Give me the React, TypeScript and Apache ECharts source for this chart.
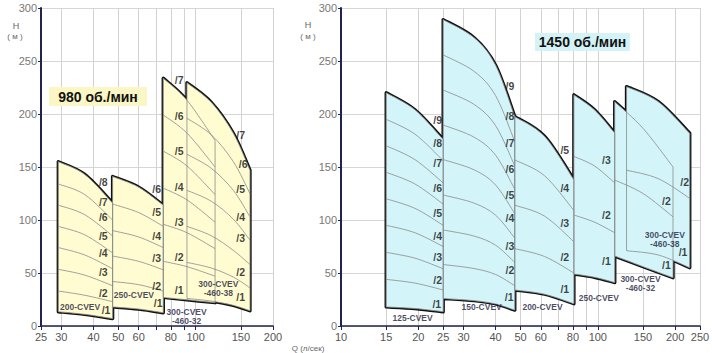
import React, { useEffect, useRef } from "react";
import * as echarts from "echarts";

// ---------- axis ticks ----------
const LEFT_X_LABELS = [25, 30, 40, 50, 60, 80, 100, 150, 200];
const LEFT_X_GRID = [25, 30, 40, 50, 60, 70, 80, 90, 100, 150, 200];
const RIGHT_X_LABELS = [10, 15, 20, 25, 30, 40, 50, 60, 80, 100, 150, 200, 250];
const RIGHT_X_GRID = [10, 15, 20, 25, 30, 40, 50, 60, 70, 80, 90, 100, 150, 200, 250];

// ---------- 980 об./мин ----------
const L200_Q = [29.2, 37, 47.5];
const L200_H = [
  [13.5, 11, 7],
  [33, 29, 23],
  [53.5, 48, 38],
  [74, 67, 54],
  [94, 86, 69],
  [114, 105, 85],
  [134, 124, 100],
  [155, 143, 116],
];
const L250_Q = [47.5, 60, 74.8];
const L250_H = [
  [18, 16, 12.5],
  [42, 39, 33],
  [66, 61, 53],
  [90, 84, 74],
  [115, 107, 94],
  [141, 131, 114],
];
const L300_32_Q = [74.8, 92.5, 119];
const L300_32_H = [
  [27, 24.7, 22],
  [61, 56, 47],
  [96, 88, 73],
  [130, 119, 98],
  [165, 151, 124],
  [199, 182, 150],
  [233.7, 213, 175],
];
const L300_38_Q = [92.5, 115, 140, 162.7];
const L300_38_H = [
  [26, 23.5, 19.5, 14.4],
  [60, 54.7, 46.2, 36],
  [94, 85.2, 71.4, 58],
  [128, 117.7, 100.9, 81],
  [162, 148.8, 128.1, 103],
  [196, 180.4, 155.2, 125],
  [229.5, 211, 182, 147],
];

// ---------- 1450 об./мин ----------
const R125_Q = [15, 19.4, 25];
const R125_H = [
  [18, 16.5, 13.5],
  [44, 40.5, 34],
  [69.5, 64, 54],
  [95, 88, 75],
  [120, 111, 95],
  [145, 134, 115],
  [170, 157, 135],
  [195, 181, 156],
  [220, 204, 176],
];
const R150_Q = [25, 33, 40, 47.5];
const R150_H = [
  [26, 23.9, 20.8, 15],
  [58, 54.2, 48.6, 38],
  [90.6, 84.8, 76.2, 60],
  [123.6, 115.9, 104.5, 83],
  [157, 147.3, 133, 106],
  [189.6, 178.1, 161.1, 129],
  [222.6, 209, 189, 151],
  [255.7, 240.2, 217.3, 174],
  [289, 272, 246, 197.5],
];
const R200_Q = [47.5, 62, 80.7];
const R200_H = [
  [34, 30, 21],
  [73, 65.6, 50],
  [114, 103.7, 79.5],
  [156.6, 141.8, 109],
  [197.5, 179, 138],
];
const R250_Q = [80.7, 97, 116.4];
const R250_H = [
  [49, 46, 41],
  [104.7, 98, 88],
  [160, 151, 135],
  [218, 204, 182],
];
const R300_32_Q = [116.4, 150, 196.3];
const R300_32_H = [
  [66, 56, 45.5],
  [137.7, 125, 103],
  [211.6, 186.5, 150],
];
const R300_38_Q = [129.4, 172, 228];
const R300_38_H = [
  [71, 67, 55],
  [147, 139, 120.5],
  [225.8, 211.6, 181.8],
];

// ---------- labels ----------
const LEFT_STAGE_LABELS: [number, number, string][] = [
  [43.7, 136, "/8"], [43.7, 117.3, "/7"], [43.7, 103, "/6"], [43.7, 85, "/5"],
  [43.7, 68.6, "/4"], [43.7, 51.2, "/3"], [43.7, 30.8, "/2"], [44.8, 15.1, "/1"],
  [70.5, 129, "/6"], [70.5, 107.8, "/5"], [70.5, 85.2, "/4"], [70.5, 63.8, "/3"],
  [70.5, 37.7, "/2"], [71.5, 22, "/1"],
  [86.3, 232, "/7"], [86.3, 198, "/6"], [86.3, 165.4, "/5"], [86.3, 130.8, "/4"],
  [86.3, 97.8, "/3"], [86.3, 64.8, "/2"], [86.3, 34, "/1"],
  [149.6, 180, "/7"], [153, 152.8, "/6"], [149.6, 129, "/5"], [149.6, 103, "/4"],
  [149.6, 82.7, "/3"], [149.6, 51.2, "/2"], [149.6, 27, "/1"],
];
const RIGHT_STAGE_LABELS: [number, number, string][] = [
  [23.8, 193.9, "/9"], [23.8, 173.1, "/8"], [23.8, 153.8, "/7"], [23.8, 130, "/6"],
  [23.8, 106.9, "/5"], [23.8, 85.2, "/4"], [23.8, 64.8, "/3"], [23.8, 43.4, "/2"], [23.6, 20.5, "/1"],
  [45.5, 226.4, "/9"], [45.5, 198, "/8"], [45.5, 172.3, "/7"], [45.5, 147.8, "/6"],
  [45.5, 123.6, "/5"], [45.5, 101.6, "/4"], [45.5, 75.5, "/3"], [45.5, 52.8, "/2"], [45.2, 27.6, "/1"],
  [74.4, 165.6, "/5"], [74.4, 130, "/4"], [74.4, 97.5, "/3"], [74.4, 64.8, "/2"], [74.4, 34.6, "/1"],
  [108, 157, "/3"], [108, 104.7, "/2"], [108, 61.6, "/1"],
  [184.9, 118.2, "/2"], [184.9, 57.5, "/1"],
  [218, 136, "/2"], [214.8, 70, "/1"],
];
const LEFT_NAMES: [number, number, string][] = [
  [35.5, 18.2, "200-CVEV"],
  [57.5, 29.2, "250-CVEV"],
  [92.2, 9.4, "300-CVEV\n-460-32"],
  [122.5, 35, "300-CVEV\n-460-38"],
];
const RIGHT_NAMES: [number, number, string][] = [
  [19, 7.8, "125-CVEV"],
  [35.3, 18.2, "150-CVEV"],
  [60.9, 18.2, "200-CVEV"],
  [100.9, 26.1, "250-CVEV"],
  [146.6, 40, "300-CVEV\n-460-32"],
  [182.3, 81.8, "300-CVEV\n-460-38"],
];

type Region = { q: number[]; h: number[][] };
const LEFT_REGIONS: Region[] = [
  { q: L200_Q, h: L200_H },
  { q: L250_Q, h: L250_H },
  { q: L300_32_Q, h: L300_32_H },
  { q: L300_38_Q, h: L300_38_H },
];
const RIGHT_REGIONS: Region[] = [
  { q: R125_Q, h: R125_H },
  { q: R150_Q, h: R150_H },
  { q: R200_Q, h: R200_H },
  { q: R250_Q, h: R250_H },
  { q: R300_32_Q, h: R300_32_H },
  { q: R300_38_Q, h: R300_38_H },
];

const FONT = "Liberation Sans";
const AXIS_COLOR = "#22224f";
const lg = (v: number) => Math.log10(v);

function curvePath(pts: number[][], start: boolean): string {
  let d = (start ? "M" : "L") + pts[0][0].toFixed(2) + "," + pts[0][1].toFixed(2);
  for (let i = 0; i < pts.length - 1; i++) {
    const p0 = pts[Math.max(0, i - 1)];
    const p1 = pts[i];
    const p2 = pts[i + 1];
    const p3 = pts[Math.min(pts.length - 1, i + 2)];
    const c1x = p1[0] + (p2[0] - p0[0]) / 6;
    const c1y = p1[1] + (p2[1] - p0[1]) / 6;
    const c2x = p2[0] - (p3[0] - p1[0]) / 6;
    const c2y = p2[1] - (p3[1] - p1[1]) / 6;
    d += ` C${c1x.toFixed(2)},${c1y.toFixed(2)} ${c2x.toFixed(2)},${c2y.toFixed(2)} ${p2[0].toFixed(2)},${p2[1].toFixed(2)}`;
  }
  return d;
}

function makeRender(regions: Region[], mode: "outline" | "fill" | "curves", color: string) {
  return (params: any, api: any) => {
    const r = regions[params.dataIndex];
    const n = r.h.length;
    const px = (q: number, h: number) => api.coord([lg(q), h]);
    const bottom = r.q.map((q, j) => px(q, r.h[0][j]));
    const top = r.q.map((q, j) => px(q, r.h[n - 1][j]));
    if (mode !== "curves") {
      const d = curvePath(bottom, true) + " " + curvePath(top.slice().reverse(), false) + " Z";
      return {
        type: "path",
        shape: { pathData: d },
        style:
          mode === "outline"
            ? { fill: color, stroke: "#111", lineWidth: 3.4, lineJoin: "round" }
            : { fill: color, stroke: null },
      };
    }
    const children: any[] = [];
    for (let s = 0; s < n; s++) {
      const pts = r.q.map((q, j) => px(q, r.h[s][j]));
      children.push({
        type: "path",
        shape: { pathData: curvePath(pts, true) },
        style: { fill: null, stroke: "#8a8a8a", lineWidth: 0.8 },
      });
    }
    const last = r.q.length - 1;
    [0, last].forEach((j) => {
      const a = px(r.q[j], r.h[0][j]);
      const b = px(r.q[j], r.h[n - 1][j]);
      children.push({
        type: "line",
        shape: { x1: a[0], y1: a[1], x2: b[0], y2: b[1] },
        style: { stroke: "#8a8a8a", lineWidth: 0.8 },
      });
    });
    return { type: "group", children };
  };
}

function chartSeries(idx: number, regions: Region[], color: string, stage: any[], names: any[]) {
  const data = regions.map((r) => [lg(r.q[0]), r.h[0][0]]);
  const base = { xAxisIndex: idx, yAxisIndex: idx, silent: true };
  const mk = (mode: "outline" | "fill" | "curves", z: number) => ({
    ...base,
    type: "custom",
    z,
    clip: false,
    encode: { x: 0, y: 1 },
    data,
    renderItem: makeRender(regions, mode, color),
  });
  const lbl = (arr: any[], z: number, size: number, col: string, lh: number) => ({
    ...base,
    type: "scatter",
    z,
    symbolSize: 1,
    itemStyle: { color: "rgba(0,0,0,0)" },
    data: arr.map((l) => [lg(l[0]), l[1], l[2]]),
    label: {
      show: true,
      position: "inside",
      formatter: (p: any) => p.value[2],
      fontFamily: FONT,
      fontSize: size,
      fontWeight: "bold",
      color: col,
      lineHeight: lh,
    },
  });
  return [
    mk("outline", 2),
    mk("fill", 3),
    mk("curves", 4),
    lbl(stage, 6, 10.5, "#111", 12),
    lbl(names, 7, 8.5, "#1b1b3c", 9),
  ];
}

function xAxis(idx: number, min: number, max: number, grid: number[], labels: number[]) {
  return {
    gridIndex: idx,
    type: "value",
    min: lg(min),
    max: lg(max),
    axisLine: { show: true, onZero: false, lineStyle: { color: AXIS_COLOR, width: 1.5 } },
    axisTick: { show: true, customValues: grid.map(lg), length: 4, lineStyle: { color: AXIS_COLOR } },
    axisLabel: {
      show: true,
      customValues: labels.map(lg),
      formatter: (v: number) => String(Math.round(Math.pow(10, v))),
      color: "#555",
      fontSize: 11,
      fontFamily: FONT,
      margin: 5,
    },
    splitLine: { show: true, lineStyle: { color: "#d2d2d2", width: 1 } },
  };
}

function yAxis(idx: number) {
  return {
    gridIndex: idx,
    type: "value",
    min: 0,
    max: 300,
    interval: 50,
    axisLine: { show: true, lineStyle: { color: AXIS_COLOR, width: 2 } },
    axisTick: { show: true, length: 3, lineStyle: { color: AXIS_COLOR } },
    axisLabel: { color: "#777", fontSize: 11, fontFamily: FONT, margin: 4 },
    splitLine: { show: true, lineStyle: { color: "#d6d6d6", width: 1 } },
  };
}

const smallText = (x: number, y: number, text: string, size: number) => ({
  type: "text",
  x,
  y,
  z: 20,
  style: {
    text,
    fill: "#666",
    font: `${size}px ${FONT}`,
    textAlign: "center",
    textVerticalAlign: "middle",
    align: "center",
    verticalAlign: "middle",
  },
});

export default function App() {
  const ref = useRef<HTMLDivElement>(null);
  useEffect(() => {
    if (!ref.current) return;
    const chart = echarts.init(ref.current, undefined, { renderer: "svg" });
    const option: any = {
      animation: false,
      backgroundColor: "#ffffff",
      textStyle: { fontFamily: FONT },
      grid: [
        { left: 41, right: 439, top: 8, bottom: 27, containLabel: false, outerBoundsMode: "none" },
        { left: 341, right: 12, top: 8, bottom: 27, containLabel: false, outerBoundsMode: "none" },
      ],
      xAxis: [
        xAxis(0, 25, 200, LEFT_X_GRID, LEFT_X_LABELS),
        xAxis(1, 10, 250, RIGHT_X_GRID, RIGHT_X_LABELS),
      ],
      yAxis: [yAxis(0), yAxis(1)],
      series: [
        ...chartSeries(0, LEFT_REGIONS, "#fffcd2", LEFT_STAGE_LABELS, LEFT_NAMES),
        ...chartSeries(1, RIGHT_REGIONS, "#d3f5f9", RIGHT_STAGE_LABELS, RIGHT_NAMES),
      ],
      graphic: [
        smallText(16, 26, "H", 9),
        smallText(15, 36, "( м )", 8),
        smallText(308, 25, "H", 9),
        smallText(308, 36, "( м )", 8),
        smallText(308, 348, "Q (л/сек)", 8),
        { type: "rect", z: 20, shape: { x: 49, y: 87, width: 98, height: 19 }, style: { fill: "#fbf7c4" } },
        {
          type: "text", x: 98, y: 97, z: 21,
          style: {
            text: "980 об./мин", fill: "#111", font: `bold 14px ${FONT}`,
            textAlign: "center", textVerticalAlign: "middle", align: "center", verticalAlign: "middle",
          },
        },
        { type: "rect", z: 20, shape: { x: 535, y: 33, width: 95, height: 18 }, style: { fill: "#d3f3f7" } },
        {
          type: "text", x: 582.5, y: 42, z: 21,
          style: {
            text: "1450 об./мин", fill: "#111", font: `bold 14px ${FONT}`,
            textAlign: "center", textVerticalAlign: "middle", align: "center", verticalAlign: "middle",
          },
        },
      ],
    };
    chart.setOption(option);
    return () => chart.dispose();
  }, []);
  return (
    <div
      ref={ref}
      style={{ position: "fixed", left: 0, top: 0, width: 712, height: 353, background: "#fff" }}
    />
  );
}
